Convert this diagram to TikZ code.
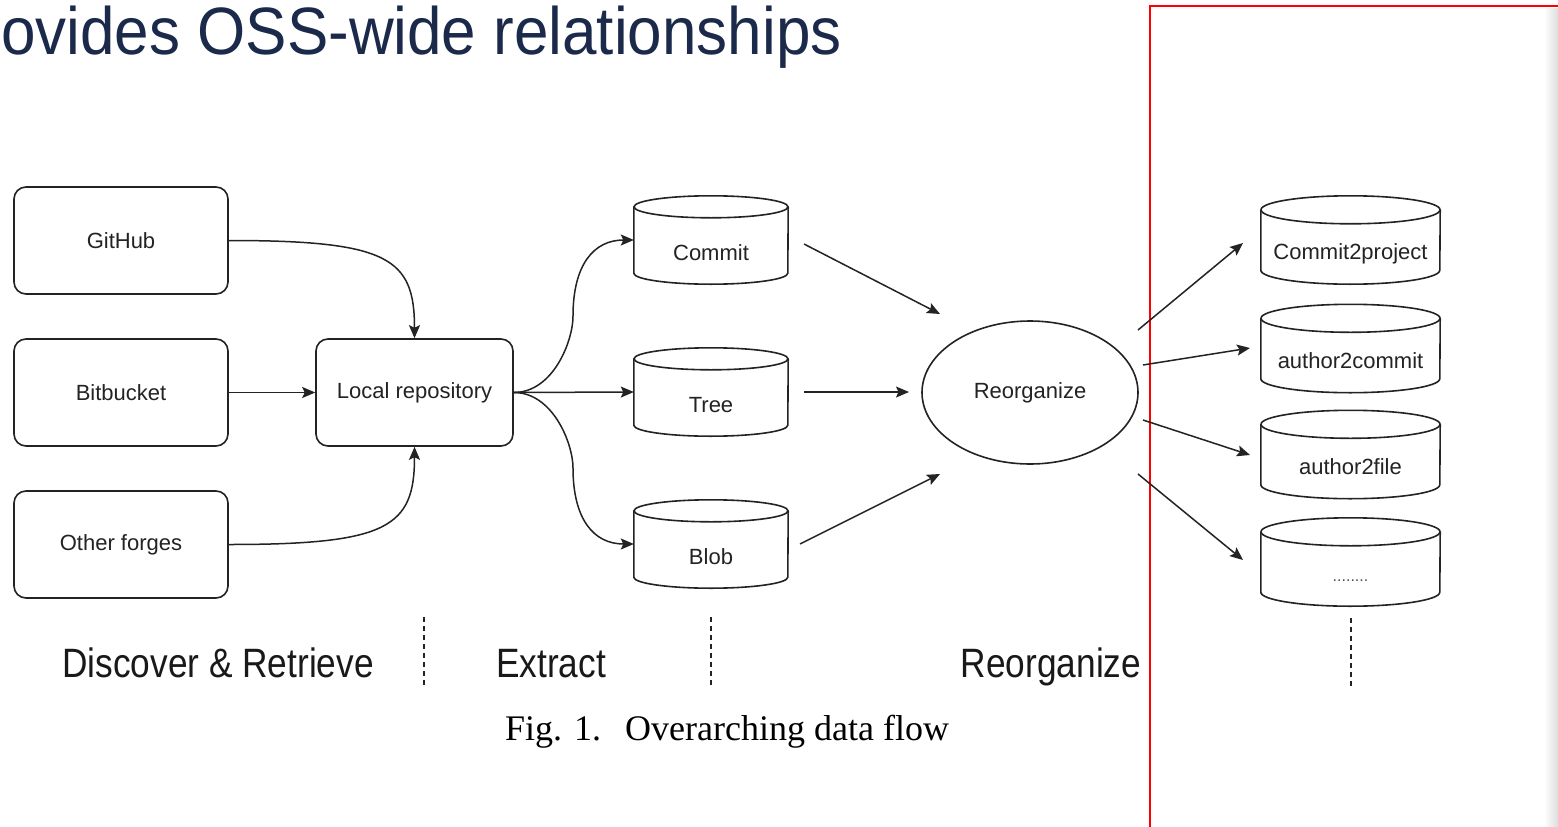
\documentclass[tikz,border=0pt]{standalone}
\usepackage{fontspec}
\setmainfont{Liberation Sans}
\newfontfamily\serifcap{Liberation Serif}
\usetikzlibrary{arrows.meta,shapes.geometric}
\definecolor{navy}{RGB}{27,42,74}
\definecolor{ink}{RGB}{35,35,35}
\newcommand\drawcyl[3]{%
  \draw[stroke] ([yshift=-#3pt]#1.north west) -- ([yshift=#3pt]#1.south west)
    arc[start angle=180,end angle=360,x radius=#2pt,y radius=#3pt]
    -- ([yshift=-#3pt]#1.north east);
  \draw[stroke] ([yshift=-#3pt]#1.north) ellipse[x radius=#2pt,y radius=#3pt];
}
\begin{document}
\begin{tikzpicture}[x=1pt,y=-1pt,
  stroke/.style={draw=ink, line width=1.6pt},
  rbox/.style={stroke, rounded corners=12pt, minimum width=214pt, minimum height=107pt,
    inner sep=0pt, font=\fontsize{22}{26}\selectfont, text=ink},
  arr/.style={draw=ink, line width=1.5pt, -{Stealth[length=13pt,width=11pt,inset=2.5pt]}},
  cylnode/.style={inner sep=0pt, minimum height=88pt},
  ctext/.style={font=\fontsize{22}{26}\selectfont, text=ink, inner sep=0pt},
  stagelbl/.style={font=\fontsize{41}{48}\selectfont, text=black!90, inner sep=0pt, anchor=base},
  divider/.style={draw=ink, line width=1.1pt, dash pattern=on 5pt off 4pt}]
\useasboundingbox (0,0) rectangle (1558,827);
\fill[white] (0,0) rectangle (1558,827);

% title
\node[anchor=base west, inner sep=0pt, text=navy, font=\fontsize{67}{72}\selectfont] (title) at (1,54)
  {\scalebox{0.925}[1]{ovides OSS-wide relationships}};

% red frame
\shade[left color=white, right color=black!13] (1544,8) rectangle (1558,827);
\draw[red, line width=2pt] (1150,827) -- (1150,6) -- (1558,6);

% sources
\node[rbox] (gh) at (121,240.5) {GitHub};
\node[rbox] (bb) at (121,392.5) {Bitbucket};
\node[rbox] (of) at (121,544.5) {Other forges};
\node[rbox, minimum width=197pt] (lr) at (414.5,392.5) {Local repository};

% extracted stores
\node[cylnode, minimum width=154pt] (cm) at (711,240) {};
\node[cylnode, minimum width=154pt] (tr) at (711,392) {};
\node[cylnode, minimum width=154pt] (bl) at (711,544) {};
\drawcyl{cm}{77}{11}
\drawcyl{tr}{77}{11}
\drawcyl{bl}{77}{11}
\node[ctext] (cmT) at (711,253) {Commit};
\node[ctext] (trT) at (711,405) {Tree};
\node[ctext] (blT) at (711,557) {Blob};

% reorganize
\node[stroke, ellipse, minimum width=216pt, minimum height=143pt, inner sep=0pt,
  font=\fontsize{22}{26}\selectfont, text=ink] (ro) at (1030,392.5) {Reorganize};

% output stores
\node[cylnode, minimum width=179pt] (o1) at (1350.5,240) {};
\node[cylnode, minimum width=179pt] (o2) at (1350.5,348.5) {};
\node[cylnode, minimum width=179pt] (o3) at (1350.5,454.5) {};
\node[cylnode, minimum width=179pt] (o4) at (1350.5,562) {};
\drawcyl{o1}{89.5}{14}
\drawcyl{o2}{89.5}{14}
\drawcyl{o3}{89.5}{14}
\drawcyl{o4}{89.5}{14}
\node[ctext] (o1T) at (1350.5,254) {Commit2project};
\node[ctext] (o2T) at (1350.5,361) {author2commit};
\node[ctext] (o3T) at (1350.5,467) {author2file};
\node[ctext, font=\fontsize{16}{18}\selectfont, text=ink!80] (o4T) at (1350.5,581) {........};

% connectors
\draw[arr] (gh.east) .. controls +(160,0) and +(0,-80) .. (lr.north);
\draw[arr] (bb.east) -- (lr.west);
\draw[arr] (of.east) .. controls +(160,0) and +(0,80) .. (lr.south);
\draw[arr] (lr.east) .. controls (553,392.5) and (573,341.3) .. (573,316)
  .. controls (573,265.3) and (593.3,240) .. (cm.west);
\draw[arr] (lr.east) -- (tr.west);
\draw[arr] (lr.east) .. controls (553,392.5) and (573,443.7) .. (573,468)
  .. controls (573,518.7) and (593.3,544) .. (bl.west);

\coordinate (a1s) at (804,244);  \coordinate (a1e) at (940,314);
\coordinate (a2s) at (804,392);  \coordinate (a2e) at (909,392);
\coordinate (a3s) at (800,544);  \coordinate (a3e) at (940,474);
\draw[arr] (a1s) -- (a1e);
\draw[arr] (a2s) -- (a2e);
\draw[arr] (a3s) -- (a3e);

\coordinate (b1s) at (1138,330); \coordinate (b1e) at (1243,243);
\coordinate (b2s) at (1143,365); \coordinate (b2e) at (1250,348);
\coordinate (b3s) at (1143,420); \coordinate (b3e) at (1250,455);
\coordinate (b4s) at (1138,474); \coordinate (b4e) at (1243,560);
\draw[arr] (b1s) -- (b1e);
\draw[arr] (b2s) -- (b2e);
\draw[arr] (b3s) -- (b3e);
\draw[arr] (b4s) -- (b4e);

% stage dividers
\coordinate (d1a) at (424,617); \coordinate (d1b) at (424,688);
\coordinate (d2a) at (711,617); \coordinate (d2b) at (711,688);
\coordinate (d3a) at (1351,618); \coordinate (d3b) at (1351,688);
\draw[divider] (d1a) -- (d1b);
\draw[divider] (d2a) -- (d2b);
\draw[divider] (d3a) -- (d3b);

% stage labels
\node[stagelbl] (s1) at (218,677) {\scalebox{0.86}[1]{Discover \& Retrieve}};
\node[stagelbl] (s2) at (551,677) {\scalebox{0.86}[1]{Extract}};
\node[stagelbl] (s3) at (1051,677) {\scalebox{0.86}[1]{Reorganize}};

% caption
\node[anchor=base west, inner sep=0pt, font=\serifcap\fontsize{36}{40}\selectfont] (cap) at (505,740)
  {Fig. 1.\hspace{24pt}Overarching data flow};
\end{tikzpicture}
\end{document}
